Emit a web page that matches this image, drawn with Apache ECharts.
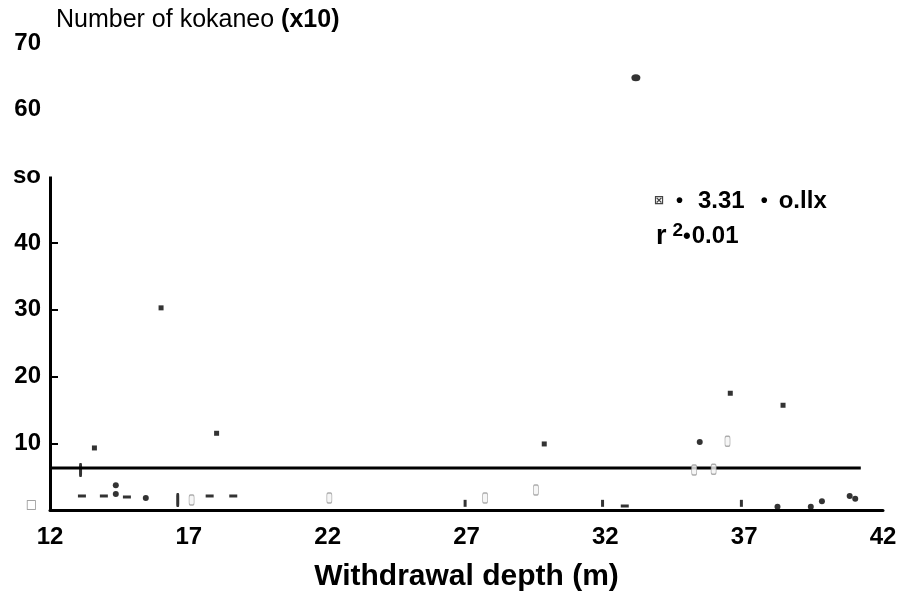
<!DOCTYPE html>
<html><head><meta charset="utf-8">
<script src="https://cdn.jsdelivr.net/npm/echarts@6/dist/echarts.min.js"></script>
<style>html,body{margin:0;padding:0;background:#fff}#c{width:905px;height:599px}</style>
</head><body><div id="c"></div>
<script>
// ---- data ----
const yTickValues = [0, 10, 20, 30, 40, 50, 60, 70];
const yTickLabels = ['□', '10', '20', '30', '40', 'so', '60', '70'];
const yTickMarks = [10, 20, 30, 40];
const xTickValues = [12, 17, 22, 27, 32, 37, 42];
const xTickLabels = ['12', '17', '22', '27', '32', '37', '42'];
// depth (m), number of kokanee (x10)
const squarePts = [[16.0, 30.3], [18.0, 11.5], [13.6, 9.3], [29.8, 9.9], [36.5, 17.5], [38.4, 15.7]];
const bigDotPts = [[33.1, 64.8]];
const dotPts = [[35.4, 10.2], [14.37, 3.7], [14.37, 2.4], [15.45, 1.8], [38.2, 0.5], [39.4, 0.5], [39.8, 1.3], [40.8, 2.1], [41.0, 1.7]];
const dashPts = [[13.15, 2.1], [13.94, 2.1], [14.77, 1.95], [17.75, 2.1], [18.6, 2.1], [32.7, 0.6]];
const tallMarkPts = [[13.1, 6.0], [16.6, 1.5]];
const shortMarkPts = [[26.95, 1.0], [31.9, 1.0], [36.9, 1.0]];
const faintPts = [[17.1, 1.5], [22.06, 1.8], [27.67, 1.8], [29.5, 3.0], [36.4, 10.3], [35.2, 6.0], [35.9, 6.1]];
const fitLine = [[12, 6.3], [41.2, 6.3]];
const axisSpan = [[12, 0], [12, 50]];
const yTitle = 'Number of kokaneo ';
const yTitleUnit = '(x10)';
const xTitle = 'Withdrawal depth (m)';
const eqLine1 = ['⊠', '•', '3.31', '•', 'o.llx'];
const eqLine2 = ['r', '2', '•', '0.01'];

const FONT = '"Liberation Sans", Arial, sans-serif';
const chart = echarts.init(document.getElementById('c'), null, {renderer: 'canvas'});

function scatter(data, symbol, size, color, extra) {
  return Object.assign({
    type: 'scatter', data: data, symbol: symbol, symbolSize: size,
    itemStyle: {color: color}, silent: true, z: 5
  }, extra || {});
}
const B = {fontFamily: FONT, fontWeight: 'bold', color: '#000'};

chart.setOption({
  animation: false,
  backgroundColor: '#ffffff',
  textStyle: {fontFamily: FONT},
  title: [
    {text: '{a|' + yTitle + '}{b|' + yTitleUnit + '}', left: 51, top: 3,
     textStyle: {rich: {
       a: {fontFamily: FONT, fontSize: 25, color: '#000', fontWeight: 'normal'},
       b: {fontFamily: FONT, fontSize: 25, color: '#000', fontWeight: 'bold'}}}},
    {text: '{box|' + eqLine1[0] + '}{d|' + eqLine1[1] + '}{t|' + eqLine1[2] + '}{d2|' + eqLine1[3] + '}{t|' + eqLine1[4] + '}',
     left: 649, top: 184,
     textStyle: {rich: {
       box: {fontFamily: 'DejaVu Sans', fontSize: 12, color: '#444', width: 22},
       d: Object.assign({fontSize: 20, width: 22}, B),
       d2: Object.assign({fontSize: 20, width: 18, padding: [0, 0, 0, 16]}, B),
       t: Object.assign({fontSize: 24}, B)}}},
    {text: '{r|' + eqLine2[0] + '}{s|' + eqLine2[1] + '}{d|' + eqLine2[2] + '}{t|' + eqLine2[3] + '}',
     left: 651, top: 216,
     textStyle: {rich: {
       r: Object.assign({fontSize: 27, fontWeight: 900, padding: [0, 6, 0, 0]}, {fontFamily: FONT, color: '#000'}),
       s: Object.assign({fontSize: 19, verticalAlign: 'top', padding: [0, 0, 12, 0]}, B),
       d: Object.assign({fontSize: 22, padding: [0, 1, 0, 0]}, B),
       t: Object.assign({fontSize: 24}, B)}}}
  ],
  grid: {left: 50, right: 22, top: 43, bottom: 89, containLabel: false},
  xAxis: {
    type: 'value', min: 12, max: 42,
    axisLine: {show: true, onZero: false, lineStyle: {color: '#000', width: 3}},
    axisTick: {show: false},
    splitLine: {show: false},
    axisLabel: {customValues: xTickValues, formatter: function (v) {
      const i = xTickValues.indexOf(v); return i >= 0 ? xTickLabels[i] : '';
    }, margin: 15, fontFamily: FONT, fontSize: 24, fontWeight: 'bold', color: '#000'},
    name: xTitle, nameLocation: 'middle', nameGap: 52,
    nameTextStyle: {fontFamily: FONT, fontSize: 30, fontWeight: 'bold', color: '#000'}
  },
  yAxis: {
    type: 'value', min: 0, max: 70, interval: 10,
    axisLine: {show: false},
    axisTick: {show: true, inside: true, length: 8, customValues: yTickMarks, lineStyle: {color: '#000', width: 2}},
    splitLine: {show: false},
    axisLabel: {customValues: yTickValues, margin: 9, fontFamily: FONT, fontSize: 24, fontWeight: 'bold', color: '#000',
      formatter: function (v) {
        const i = yTickValues.indexOf(v);
        if (i === 0) return '{z|' + yTickLabels[0] + '}';
        return i >= 0 ? yTickLabels[i] : '';
      },
      rich: {z: {fontFamily: 'DejaVu Sans', fontSize: 12, color: '#888', padding: [0, 4, 10, 0]}}}
  },
  series: [
    {type: 'line', data: fitLine, symbol: 'none', silent: true, z: 3,
     lineStyle: {color: '#000', width: 3},
     markLine: {silent: true, symbol: ['none', 'none'], label: {show: false},
       lineStyle: {color: '#000', width: 3, type: 'solid'},
       data: [[{coord: axisSpan[0]}, {coord: axisSpan[1]}]]}},
    scatter(squarePts, 'rect', 5, '#000'),
    scatter(bigDotPts, 'circle', [9, 7], '#000'),
    scatter(dotPts, 'circle', 6, '#000'),
    scatter(dashPts, 'rect', [8, 3], '#000'),
    scatter(tallMarkPts, 'roundRect', [3, 14], '#000'),
    scatter(shortMarkPts, 'rect', [3, 7], '#000'),
    scatter(faintPts, 'roundRect', [5, 10], '#ffffff', {itemStyle: {color: '#f4f4f4', borderColor: '#999', borderWidth: 1}})
  ]
});
</script></body></html>
